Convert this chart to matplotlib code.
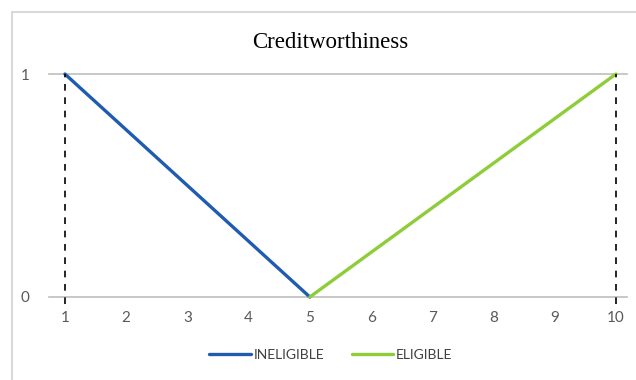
import matplotlib.pyplot as plt
from matplotlib.patches import Rectangle

# datos
categorias = [1, 2, 3, 4, 5, 6, 7, 8, 9, 10]
ineligible_x = [1, 5]
ineligible_y = [1, 0]
eligible_x = [5, 10]
eligible_y = [0, 1]
limites = [1, 10]  # lineas punteadas verticales
niveles = [0, 1]

fig = plt.figure(figsize=(6.36, 3.8), dpi=100)
fig.patches.append(Rectangle((12 / 636, -0.1), 1.2, 1 - 12 / 380 + 0.1,
                             transform=fig.transFigure, fill=False,
                             edgecolor='#d9d9d9', linewidth=1.5))

ax = fig.add_axes([49 / 636, 1 - 297 / 380, (627 - 49) / 636, (297 - 74) / 380])

for n in niveles:
    ax.axhline(n, color='#bfbfbf', lw=1.2, clip_on=False, zorder=1)

ax.plot(ineligible_x, ineligible_y, color='#1f5cb0', lw=2.4, label='INELIGIBLE',
        solid_capstyle='round', zorder=3, clip_on=False)
ax.plot(eligible_x, eligible_y, color='#8fcc3a', lw=2.4, label='ELIGIBLE',
        solid_capstyle='round', zorder=3, clip_on=False)

ax.vlines(limites, -0.03, 1.0, colors='black', linestyles=(0, (4, 4)), lw=1.2,
          clip_on=False, zorder=4)

ax.set_xlim(0.74, 10.18)
ax.set_ylim(0, 1)
ax.set_xticks(categorias)
ax.set_xticklabels([str(c) for c in categorias])
ax.set_yticks(niveles)
for s in ax.spines.values():
    s.set_visible(False)
ax.tick_params(length=0, labelsize=11, labelcolor='#595959', pad=10)
ax.tick_params(axis='y', pad=14)
for lab in ax.get_xticklabels() + ax.get_yticklabels():
    lab.set_family('Lato')

fig.text(330 / 636, 1 - 42 / 380, 'Creditworthiness', ha='center', va='center',
         family='Liberation Serif', fontsize=16.5)

fig.legend(loc='center', bbox_to_anchor=(0.52, 1 - 355 / 380), ncol=2, frameon=False,
           handlelength=3.0, handletextpad=0.2, columnspacing=2,
           prop={'family': 'Lato', 'size': 10}, labelcolor='#404040')

fig.savefig('out.png', dpi=100)
